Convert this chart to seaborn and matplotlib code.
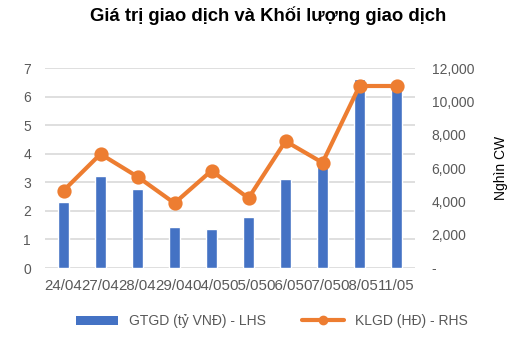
import matplotlib
matplotlib.use("Agg")
import matplotlib.pyplot as plt
from matplotlib.lines import Line2D
from matplotlib.patches import Patch
from matplotlib.ticker import FuncFormatter
import seaborn as sns
import pandas as pd

# Trading data per session
dates = ["24/04", "27/04", "28/04", "29/04", "04/05", "05/05", "06/05", "07/05", "08/05", "11/05"]
gtgd = [2.30, 3.23, 2.77, 1.45, 1.37, 1.80, 3.10, 3.65, 6.63, 6.50]          # tỷ VNĐ
klgd = [4640, 6840, 5480, 3890, 5840, 4190, 7610, 6320, 10920, 10920]       # nghìn CW

df = pd.DataFrame({"date": dates, "gtgd": gtgd, "klgd": klgd})

sns.set_theme(style="white")
plt.rcParams["font.family"] = ["Liberation Sans", "DejaVu Sans"]

BLUE = "#4472C4"
ORANGE = "#ED7D31"
GRID = "#D9D9D9"
TXT = "#595959"

fig = plt.figure(figsize=(5.11, 3.37), dpi=100)
ax = fig.add_axes([45 / 511, 1 - 268 / 337, 370 / 511, 200 / 337])

sns.barplot(data=df, x="date", y="gtgd", color=BLUE, width=0.3, saturation=1, ax=ax, zorder=2)
ax.set_ylim(0, 7)
ax.set_xlim(-0.5, len(dates) - 0.5)
ax.set_yticks(range(0, 8))
ax.yaxis.grid(True, color=GRID, linewidth=1.2, zorder=0)
ax.set_axisbelow(True)
ax.set_xlabel("")
ax.set_ylabel("")
for s in ax.spines.values():
    s.set_visible(False)
ax.tick_params(axis="both", length=0, labelsize=10, labelcolor=TXT)
ax.tick_params(axis="x", pad=8, labelsize=10.8)
ax.tick_params(axis="y", pad=10)

ax2 = ax.twinx()
sns.pointplot(data=df, x="date", y="klgd", color=ORANGE, markers="o",
              linewidth=3, markersize=8, ax=ax2, zorder=3)
ax2.set_ylim(0, 12000)
ax2.set_yticks(range(0, 12001, 2000))
ax2.yaxis.set_major_formatter(FuncFormatter(lambda v, p: "-" if v == 0 else f"{int(v):,}"))
ax2.set_xlim(-0.5, len(dates) - 0.5)
ax2.set_xlabel("")
ax2.set_ylabel("Nghìn CW", fontsize=10, color="black", labelpad=14)
for s in ax2.spines.values():
    s.set_visible(False)
ax2.tick_params(axis="both", length=0, labelsize=10, labelcolor=TXT)
ax2.tick_params(axis="y", pad=12)

fig.suptitle("Giá trị giao dịch và Khối lượng giao dịch", x=268 / 511, y=1 - 16 / 337,
             va="center", fontsize=13.3, fontweight="bold", color="black")

handles = [
    Patch(facecolor=BLUE, edgecolor="none"),
    Line2D([0], [0], color=ORANGE, linewidth=3, marker="o", markersize=6),
]
fig.legend(handles, ["GTGD (tỷ VNĐ) - LHS", "KLGD (HĐ) - RHS"],
           loc="center", bbox_to_anchor=(272 / 511, 1 - 321 / 337), ncol=2,
           frameon=False, fontsize=10, labelcolor=TXT, handlelength=3.0,
           handleheight=0.6, columnspacing=2.6, handletextpad=0.8)

fig.savefig("out.png", dpi=100)
